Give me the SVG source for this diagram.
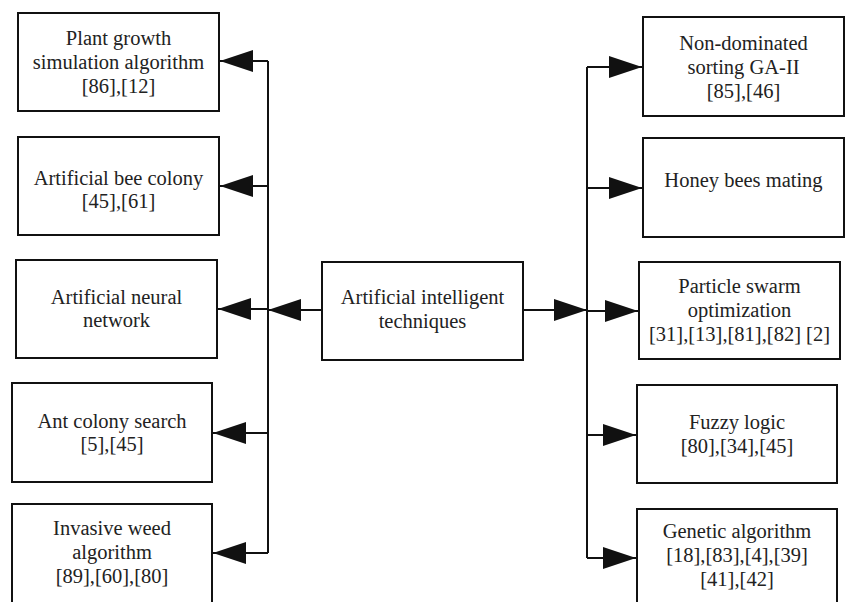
<svg xmlns="http://www.w3.org/2000/svg" width="846" height="602" viewBox="0 0 846 602">
<defs>
<marker id="arr" viewBox="0 0 33 22" refX="33" refY="11" markerWidth="33" markerHeight="22" markerUnits="userSpaceOnUse" orient="auto">
<polygon points="0,0 33,11 0,22" fill="#111"/>
</marker>
<style>
.box{fill:#fff;stroke:#111;stroke-width:2}
text{font-family:'Liberation Serif',serif;font-size:20.5px;fill:#222;text-anchor:middle}
.c{fill:none;stroke:#111;stroke-width:2}
.a{fill:none;stroke:#111;stroke-width:2;marker-end:url(#arr)}
</style>
</defs>
<rect width="846" height="602" fill="#fff"/>
<g id="connectors">
<path class="c" d="M268 61 V553"/>
<path class="a" d="M268 61 H220"/>
<path class="a" d="M268 186 H220"/>
<path class="a" d="M268 309 H218"/>
<path class="a" d="M268 433 H213"/>
<path class="a" d="M268 553 H213"/>
<path class="a" d="M322 310 H268"/>
<path class="a" d="M523 310 H587"/>
<path class="c" d="M587 67 V558"/>
<path class="a" d="M587 67 H642"/>
<path class="a" d="M587 188 H642"/>
<path class="a" d="M587 311 H638"/>
<path class="a" d="M587 435 H636"/>
<path class="a" d="M587 558 H636"/>
</g>
<g font-family="Liberation Serif, serif">
<g id="center">
<rect class="box" x="322" y="262" width="201" height="98"/>
<text x="422.5" y="304">Artificial intelligent</text>
<text x="422.5" y="328">techniques</text>
</g>
<g id="plant">
<rect class="box" x="18" y="13" width="201" height="98"/>
<text x="118.5" y="45">Plant growth</text>
<text x="118.5" y="69">simulation algorithm</text>
<text x="118.5" y="93">[86],[12]</text>
</g>
<g id="bee">
<rect class="box" x="18" y="137" width="201" height="98"/>
<text x="118.5" y="185">Artificial bee colony</text>
<text x="118.5" y="208">[45],[61]</text>
</g>
<g id="ann">
<rect class="box" x="16" y="260" width="201" height="98"/>
<text x="116.5" y="304">Artificial neural</text>
<text x="116.5" y="327">network</text>
</g>
<g id="ant">
<rect class="box" x="12" y="383" width="200" height="99"/>
<text x="112" y="428">Ant colony search</text>
<text x="112" y="451">[5],[45]</text>
</g>
<g id="weed">
<rect class="box" x="12" y="504" width="200" height="100"/>
<text x="112" y="535">Invasive weed</text>
<text x="112" y="559">algorithm</text>
<text x="112" y="583">[89],[60],[80]</text>
</g>
<g id="nsga">
<rect class="box" x="643" y="17" width="201" height="99"/>
<text x="743.5" y="50">Non-dominated</text>
<text x="743.5" y="74">sorting GA-II</text>
<text x="743.5" y="98">[85],[46]</text>
</g>
<g id="honey">
<rect class="box" x="643" y="138" width="201" height="99"/>
<text x="743.5" y="187">Honey bees mating</text>
</g>
<g id="pso">
<rect class="box" x="639" y="262" width="201" height="97"/>
<text x="739.5" y="293">Particle swarm</text>
<text x="739.5" y="317">optimization</text>
<text x="739.5" y="341">[31],[13],[81],[82] [2]</text>
</g>
<g id="fuzzy">
<rect class="box" x="637" y="385" width="200" height="98"/>
<text x="737" y="429">Fuzzy logic</text>
<text x="737" y="453">[80],[34],[45]</text>
</g>
<g id="ga">
<rect class="box" x="637" y="509" width="200" height="96"/>
<text x="737" y="538">Genetic algorithm</text>
<text x="737" y="562">[18],[83],[4],[39]</text>
<text x="737" y="586">[41],[42]</text>
</g>
</g>
</svg>
